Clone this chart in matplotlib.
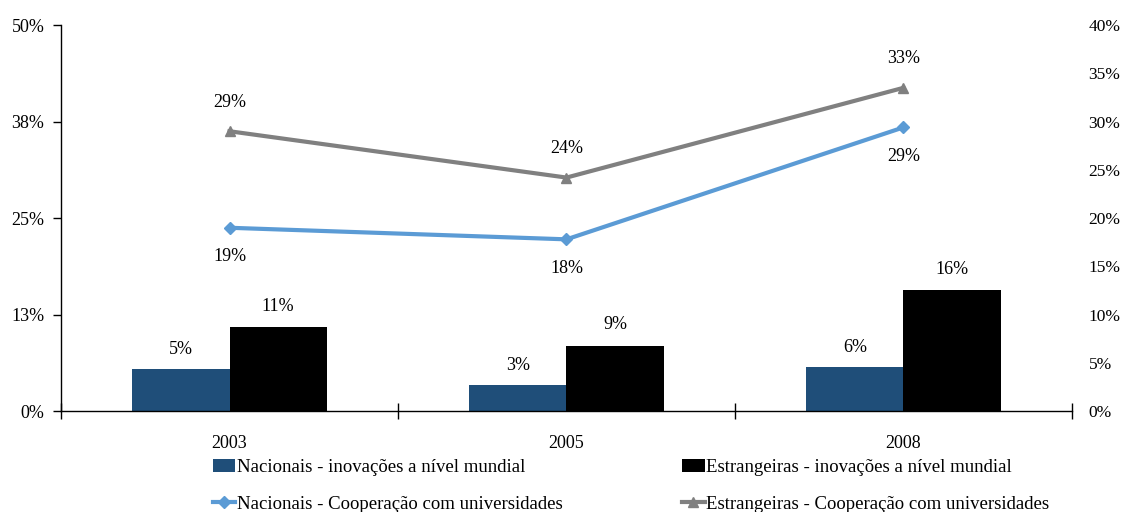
import matplotlib.pyplot as plt
import numpy as np

plt.rcParams['font.family'] = ['Liberation Serif', 'DejaVu Serif']

# data
anos = ['2003', '2005', '2008']
nac_inov = [5.4, 3.4, 5.7]          # left axis (%)
est_inov = [10.9, 8.5, 15.7]        # left axis (%)
nac_coop = [19.0, 17.8, 29.4]       # right axis (%)
est_coop = [29.0, 24.2, 33.5]       # right axis (%)
nac_inov_lbl = ['5%', '3%', '6%']
est_inov_lbl = ['11%', '9%', '16%']
nac_coop_lbl = ['19%', '18%', '29%']
est_coop_lbl = ['29%', '24%', '33%']
left_ticks = [0, 12.5, 25, 37.5, 50]
left_tick_lbl = ['0%', '13%', '25%', '38%', '50%']
right_ticks = [0, 5, 10, 15, 20, 25, 30, 35, 40]

c_nac = '#1f4e79'
c_est = '#000000'
c_nac_line = '#5b9bd5'
c_est_line = '#808080'

fig = plt.figure(figsize=(11.26, 5.12), dpi=100)
ax1 = fig.add_axes([0.0542, 0.197, 0.8978, 0.754])
ax2 = ax1.twinx()

x = np.arange(len(anos))
w = 0.288
b1 = ax1.bar(x - w / 2, nac_inov, w, color=c_nac, label='Nacionais - inovações a nível mundial')
b2 = ax1.bar(x + w / 2, est_inov, w, color=c_est, label='Estrangeiras - inovações a nível mundial')
for xi, v, t in zip(x, nac_inov, nac_inov_lbl):
    ax1.annotate(t, (xi - w / 2, v), xytext=(0, 14), textcoords='offset points',
                 ha='center', va='center', fontsize=13)
for xi, v, t in zip(x, est_inov, est_inov_lbl):
    ax1.annotate(t, (xi + w / 2, v), xytext=(0, 15), textcoords='offset points',
                 ha='center', va='center', fontsize=13)

l1, = ax2.plot(x, nac_coop, color=c_nac_line, lw=3, marker='D', ms=6,
               label='Nacionais - Cooperação com universidades')
l2, = ax2.plot(x, est_coop, color=c_est_line, lw=3, marker='^', ms=7,
               label='Estrangeiras - Cooperação com universidades')
for xi, v, t in zip(x, nac_coop, nac_coop_lbl):
    ax2.annotate(t, (xi, v), xytext=(0, -21), textcoords='offset points',
                 ha='center', va='center', fontsize=13)
for xi, v, t in zip(x, est_coop, est_coop_lbl):
    ax2.annotate(t, (xi, v), xytext=(0, 21), textcoords='offset points',
                 ha='center', va='center', fontsize=13)

ax1.set_xlim(-0.5, 2.5)
ax1.set_ylim(0, 50)
ax2.set_ylim(0, 40)
ax1.set_yticks(left_ticks)
ax1.set_yticklabels(left_tick_lbl, fontsize=13)
ax2.set_yticks(right_ticks)
ax2.set_yticklabels([f'{t}%' for t in right_ticks], fontsize=12.5)

ax1.set_xticks([-0.5, 0.5, 1.5, 2.5])
ax1.set_xticklabels([])
ax1.set_xticks(x, minor=True)
ax1.set_xticklabels(anos, minor=True, fontsize=13)
ax1.tick_params(axis='x', which='major', direction='inout', length=12, width=1)
ax1.tick_params(axis='x', which='minor', length=0, pad=17)
ax1.tick_params(axis='y', direction='out', length=6, width=1, pad=6)
ax2.tick_params(axis='y', length=0, pad=12)

for s in ['top', 'right']:
    ax1.spines[s].set_visible(False)
for s in ['top', 'right', 'left', 'bottom']:
    ax2.spines[s].set_visible(False)
ax1.spines['left'].set_linewidth(1)
ax1.spines['bottom'].set_linewidth(1)

fig.legend([b1, l1, b2, l2], [b1.get_label(), l1.get_label(), b2.get_label(), l2.get_label()],
           ncol=2, loc='upper left', bbox_to_anchor=(0.189, 0.1035), frameon=False,
           fontsize=13.5, handlelength=1.2, handletextpad=0.1, columnspacing=6.35,
           labelspacing=1.04, borderaxespad=0, borderpad=0)

fig.savefig('out.png', dpi=100)
